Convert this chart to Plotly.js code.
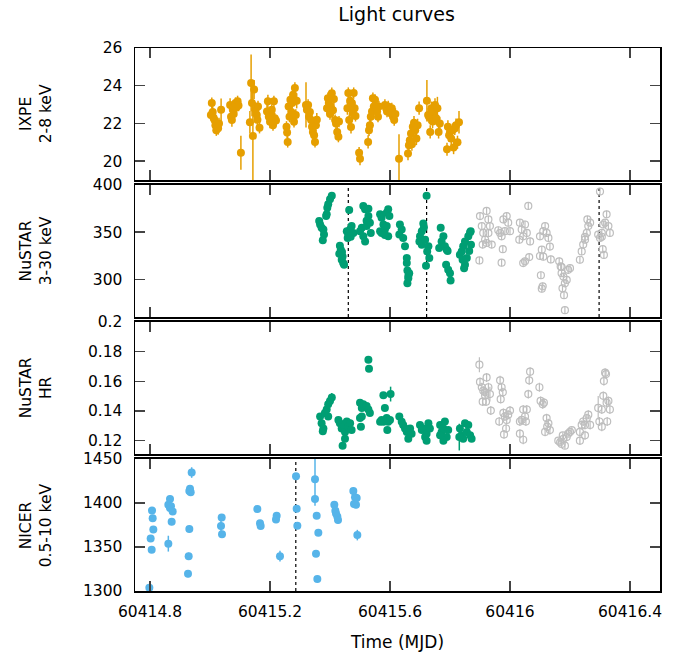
<!DOCTYPE html>
<html>
<head>
<meta charset="utf-8">
<script src="https://cdn.plot.ly/plotly-3.0.1.min.js"></script>
<style>html,body{margin:0;padding:0;background:#fff;}#chart{width:686px;height:659px;}</style>
</head>
<body>
<div id="chart"></div>
<script>
// ---------------- DATA ----------------
const ixpe_time = [
60415.003,60415.006,60415.009,60415.012,60415.015,60415.018,60415.021,60415.024,60415.027,60415.030,60415.037,
60415.067,60415.070,60415.073,60415.076,60415.079,60415.082,60415.085,60415.088,60415.092,60415.095,60415.103,
60415.133,60415.137,60415.140,60415.143,60415.147,60415.152,60415.156,60415.160,60415.165,60415.158,
60415.190,60415.193,60415.196,60415.200,60415.203,60415.206,60415.210,60415.213,60415.216,60415.220,
60415.255,60415.257,60415.259,60415.262,60415.265,60415.268,60415.271,60415.274,60415.277,60415.280,60415.283,60415.286,60415.289,
60415.320,60415.323,60415.327,60415.330,60415.333,60415.337,60415.340,60415.343,60415.347,60415.350,60415.353,60415.356,
60415.390,60415.393,60415.396,60415.400,60415.403,60415.406,60415.410,60415.413,60415.417,60415.420,60415.424,60415.428,60415.430,
60415.458,60415.461,60415.464,60415.467,60415.470,60415.473,60415.476,60415.479,60415.482,60415.485,
60415.497,60415.500,
60415.527,60415.530,60415.533,60415.536,60415.540,60415.543,60415.546,60415.550,60415.553,60415.557,60415.560,60415.563,
60415.583,60415.587,60415.590,60415.594,60415.598,60415.602,60415.606,60415.610,60415.614,60415.618,
60415.630,
60415.660,60415.663,60415.666,60415.670,60415.673,60415.676,60415.680,60415.684,60415.688,60415.692,60415.697,
60415.723,60415.727,60415.730,60415.734,60415.738,60415.742,60415.746,60415.750,60415.754,60415.758,60415.762,60415.766,
60415.790,60415.793,60415.797,60415.800,60415.804,60415.808,60415.812,60415.816,60415.820,60415.825,60415.830];
const ixpe_rate = [
22.45,23.08,22.6,22.3,22.18,21.9,21.64,21.82,21.75,22.0,22.72,
22.98,22.36,22.18,22.72,22.5,22.9,23.08,22.85,23.17,22.95,20.45,
22.06,24.15,23.08,21.34,23.8,22.72,22.45,22.9,21.77,22.2,
22.63,23.17,22.36,22.09,22.5,22.72,21.91,23.17,22.27,22.15,
21.82,21.52,21.02,22.9,22.36,23.25,22.6,23.08,23.52,22.09,23.88,22.45,23.2,
22.98,22.72,22.98,22.36,22.6,22.18,21.82,21.55,21.37,21.02,21.9,22.2,
22.81,23.34,23.08,22.5,22.9,23.6,22.7,23.3,22.18,21.99,21.55,21.3,22.1,
22.81,23.61,22.18,23.2,21.81,23.08,22.54,23.61,22.81,22.4,
20.45,20.13,
21.02,21.64,21.91,22.36,22.63,23.34,22.9,23.25,22.9,22.63,22.36,22.9,
22.98,22.81,22.63,22.9,22.72,22.54,22.8,22.36,22.18,22.5,
20.13,
20.40,20.84,21.11,21.47,20.9,21.82,22.04,21.64,21.2,21.9,22.81,
23.2,22.45,22.36,21.55,22.81,22.1,22.63,22.98,22.27,22.81,21.55,22.0,
20.63,21.82,21.37,21.55,21.2,21.64,20.72,21.73,21.91,21.0,22.06];
const ixpe_err = [
0.3,0.3,0.3,0.3,0.3,0.3,0.3,0.3,0.35,0.3,0.6,
0.35,0.3,0.35,0.3,0.3,0.3,0.3,0.3,0.3,0.3,0.9,
0.6,1.5,0.7,2.5,0.5,0.4,0.4,0.3,0.3,0.3,
0.35,0.35,0.3,0.35,0.3,0.3,0.3,0.3,0.3,0.3,
0.3,0.3,0.3,0.3,0.3,0.3,0.3,0.3,0.3,0.3,0.3,0.3,0.4,
1.2,0.4,0.3,0.3,0.3,0.3,0.3,0.3,0.3,0.3,0.3,0.35,
0.3,0.3,0.3,0.3,0.3,0.3,0.3,0.3,0.3,0.3,0.35,0.3,0.3,
0.35,0.3,0.3,0.3,0.35,0.3,0.3,0.3,0.3,0.3,
0.3,0.35,
0.35,0.3,0.3,0.3,0.3,0.3,0.3,0.3,0.3,0.3,0.3,0.3,
0.3,0.3,0.3,0.3,0.3,0.3,0.3,0.3,0.3,0.3,
1.3,
0.35,0.35,0.35,0.35,0.35,0.35,0.35,0.35,0.35,0.35,0.35,
1.1,0.35,0.35,0.35,0.35,0.35,0.35,0.35,0.35,0.6,0.35,0.35,
0.35,0.35,0.35,0.35,0.35,0.35,0.35,0.35,0.35,0.35,0.6];

// NuSTAR count rate, first segment (filled)
const nustarA_time = [
60415.367,60415.372,60415.378,60415.380,60415.376,60415.364,60415.387,60415.389,60415.391,60415.394,60415.400,60415.406,
60415.431,60415.433,60415.436,60415.439,60415.442,60415.444,60415.447,60415.440,
60415.464,60415.456,60415.459,60415.461,60415.467,60415.472,60415.478,60415.469,
60415.500,60415.506,60415.511,60415.511,60415.517,60415.517,60415.522,60415.522,60415.528,60415.528,60415.533,60415.536,
60415.567,60415.567,60415.572,60415.572,60415.578,60415.583,60415.589,60415.589,60415.594,60415.594,60415.598,60415.583,
60415.631,60415.633,60415.639,60415.644,60415.650,60415.656,60415.656,60415.658,60415.661,60415.664,60415.658,60415.661,
60415.698,60415.700,60415.706,60415.706,60415.711,60415.713,60415.722,60415.720,60415.728,60415.724,60415.731,60415.717,
60415.764,60415.769,60415.772,60415.778,60415.783,60415.789,60415.787,60415.794,60415.800,60415.802,60415.792,
60415.833,60415.839,60415.842,60415.844,60415.850,60415.850,60415.847,60415.856,60415.861,60415.867,60415.869,60415.870,60415.864];
const nustarA_rate = [
358.1,354.6,352.8,347.4,341.4,361.7,367,368.9,376,379.6,384.9,388.5,
327.1,335.7,331.4,320.7,324.3,317.2,315.4,329,
373.5,351,343.9,347.4,352.8,356.4,349.2,345,
351,354.6,377.8,345.6,374.2,340.2,356.4,362,374.9,367,360,349.2,
368.9,351,365.3,349.2,358.1,352.8,370.7,356.4,374.2,345.6,367,347,
347.4,358.1,352.8,343.9,335,322.6,317.2,309.3,303.6,306.5,295.7,301.1,
340.2,345.6,351,336.6,359.2,355,388.5,314.3,335,329.6,322.6,342,
333.2,354.6,340.2,345.6,335,331.4,315.4,310,306.5,298.7,330,
326,329.6,320.7,335,340.2,315.4,311.8,322.6,345.6,350,351,336.7,330];

// NuSTAR count rate, second segment (open)
const nustarB_time = [
60415.900,60415.906,60415.911,60415.917,60415.922,60415.928,60415.928,60415.933,60415.922,60415.909,60415.898,60415.939,
60415.967,60415.972,60415.978,60415.983,60415.989,60415.994,60416.000,60415.976,60415.972,60415.961,
60416.033,60416.039,60416.044,60416.050,60416.056,60416.061,60416.067,60416.044,60416.050,60416.064,60416.031,
60416.100,60416.106,60416.111,60416.117,60416.122,60416.128,60416.133,60416.100,60416.111,60416.136,60416.103,60416.106,60416.109,
60416.164,60416.169,60416.172,60416.178,60416.183,60416.189,60416.194,60416.200,60416.175,60416.180,60416.183,60416.172,
60416.233,60416.239,60416.244,60416.250,60416.256,60416.261,60416.258,60416.267,60416.250,
60416.300,60416.294,60416.300,60416.306,60416.311,60416.317,60416.322,60416.328,60416.333,60416.309,60416.313,60416.306];
const nustarB_rate = [
367,356.4,349.2,342,338.5,363.5,349,356.4,372.5,336.8,320,336.8,
349.2,345.6,363.5,351,367,360,351,331.9,317.6,352,
360,352.8,345.6,358.1,349.2,377.8,340.2,317.2,319,323.6,342,
345.6,331.4,351,356.4,349.2,343.9,334.7,324.7,324,321.1,304.3,290,292.5,
319,313.6,306.5,302.9,295.7,299.3,310,311.8,290.4,283.2,267.2,313,
320.7,329.6,336.8,342,349.2,356.4,363.5,360,345,
393.1,347.4,343.9,349.2,358.1,360,368.9,356.4,349.2,331.9,325.8,345];

// NuSTAR hardness ratio, first segment (filled)
const hrA_time = [
60415.367,60415.372,60415.378,60415.376,60415.383,60415.389,60415.394,60415.400,60415.406,60415.394,
60415.433,60415.439,60415.444,60415.450,60415.456,60415.461,60415.467,60415.472,60415.442,60415.450,60415.428,
60415.500,60415.506,60415.511,60415.522,60415.528,60415.533,60415.506,60415.500,60415.503,60415.528,60415.530,
60415.578,60415.583,60415.572,60415.578,60415.589,60415.594,60415.600,60415.591,60415.602,60415.567,
60415.631,60415.639,60415.644,60415.650,60415.656,60415.661,60415.667,60415.672,
60415.700,60415.706,60415.711,60415.717,60415.722,60415.728,60415.733,60415.722,
60415.767,60415.772,60415.778,60415.783,60415.789,60415.794,60415.778,60415.767,
60415.833,60415.839,60415.844,60415.850,60415.856,60415.861,60415.867,60415.872,60415.831];
const hrA_val = [
0.1363,0.1317,0.1282,0.1264,0.1387,0.1410,0.1445,0.1468,0.1491,0.1363,
0.1317,0.1282,0.1306,0.1259,0.1329,0.1294,0.1317,0.1271,0.1166,0.1212,0.1340,
0.1456,0.1421,0.1445,0.1433,0.1410,0.1387,0.1363,0.1352,0.1294,0.1746,0.1684,
0.1506,0.1421,0.1340,0.1328,0.1352,0.1328,0.1340,0.1271,0.1514,0.1328,
0.1363,0.1328,0.1306,0.1282,0.1259,0.1212,0.1282,0.1247,
0.1306,0.1271,0.1282,0.1224,0.1247,0.1317,0.1282,0.1200,
0.1306,0.1259,0.1282,0.1329,0.1224,0.1271,0.1200,0.1236,
0.1282,0.1236,0.1212,0.1317,0.1259,0.1306,0.1236,0.1212,0.1224];
const hrA_err = [
0.002,0.002,0.002,0.002,0.002,0.002,0.002,0.002,0.003,0.002,
0.002,0.002,0.002,0.002,0.002,0.002,0.002,0.002,0.002,0.002,0.002,
0.002,0.002,0.002,0.002,0.002,0.002,0.002,0.002,0.002,0.002,0.002,
0.002,0.002,0.002,0.002,0.002,0.002,0.002,0.002,0.005,0.002,
0.002,0.002,0.002,0.002,0.002,0.002,0.002,0.002,
0.002,0.002,0.002,0.002,0.002,0.002,0.002,0.002,
0.002,0.002,0.002,0.002,0.002,0.002,0.002,0.002,
0.002,0.002,0.002,0.002,0.002,0.002,0.002,0.002,0.009];

// NuSTAR hardness ratio, second segment (open)
const hrB_time = [
60415.898,60415.900,60415.906,60415.911,60415.917,60415.922,60415.928,60415.933,60415.909,60415.920,60415.936,60415.917,
60415.967,60415.972,60415.976,60415.969,60415.978,60415.983,60415.989,60415.994,60416.000,60415.964,60415.980,60415.987,
60416.033,60416.039,60416.044,60416.050,60416.056,60416.061,60416.064,60416.067,60416.033,60416.044,60416.053,
60416.098,60416.102,60416.109,60416.113,60416.122,60416.128,60416.133,60416.117,60416.124,
60416.161,60416.167,60416.172,60416.178,60416.183,60416.189,60416.194,60416.200,60416.176,60416.206,
60416.233,60416.239,60416.244,60416.250,60416.256,60416.261,60416.233,60416.250,60416.267,
60416.294,60416.306,60416.311,60416.313,60416.317,60416.320,60416.322,60416.328,60416.333,60416.298,60416.306,60416.324];
const hrB_val = [
0.1712,0.1596,0.1560,0.1537,0.1526,0.1626,0.1560,0.1514,0.1463,0.1463,0.1403,0.1505,
0.1607,0.1560,0.1526,0.1480,0.1387,0.1363,0.1340,0.1375,0.1403,0.1329,0.1242,0.1282,
0.1329,0.1340,0.1410,0.1363,0.1410,0.1514,0.1607,0.1665,0.1247,0.1206,0.1329,
0.1560,0.1468,0.1445,0.1456,0.1352,0.1317,0.1271,0.1259,0.1294,
0.1200,0.1189,0.1178,0.1212,0.1166,0.1224,0.1247,0.1259,0.1236,0.1271,
0.1259,0.1306,0.1329,0.1306,0.1352,0.1375,0.1200,0.1236,0.1306,
0.1421,0.1410,0.1502,0.1602,0.1658,0.1649,0.1456,0.1468,0.1410,0.1329,0.1294,0.1329];
const hrB_err = [
0.005,0.003,0.003,0.003,0.003,0.003,0.003,0.005,0.003,0.003,0.003,0.003,
0.003,0.003,0.003,0.003,0.003,0.003,0.003,0.003,0.003,0.003,0.003,0.003,
0.003,0.003,0.003,0.003,0.003,0.003,0.003,0.003,0.003,0.003,0.003,
0.003,0.003,0.003,0.003,0.003,0.003,0.003,0.003,0.003,
0.002,0.002,0.002,0.002,0.002,0.002,0.002,0.002,0.002,0.002,
0.003,0.003,0.003,0.003,0.003,0.003,0.003,0.003,0.003,
0.008,0.003,0.003,0.003,0.003,0.003,0.003,0.003,0.003,0.003,0.003,0.003];

// NICER count rate
const nicer_time = [
60414.7978,60414.8022,60414.8056,60414.8067,60414.8089,60414.8111,
60414.8611,60414.8611,60414.8667,60414.8667,60414.8700,60414.8756,60414.8722,
60414.9389,60414.9333,60414.9356,60414.9311,60414.9311,60414.9289,60414.9267,
60415.0389,60415.0367,60415.0400,
60415.1578,60415.1667,60415.1689,
60415.2222,60415.2200,60415.2333,
60415.2867,60415.2889,60415.2911,
60415.3500,60415.3500,60415.3556,60415.3611,60415.3533,60415.3578,
60415.4144,60415.4178,60415.4200,60415.4244,60415.4267,
60415.4778,60415.4833,60415.4889,60415.4800,60415.4867,60415.4911];
const nicer_rate = [
1303.8,1359.6,1346.9,1391.5,1382.7,1370.0,
1353.8,1398.0,1404.6,1394.2,1396.2,1390.4,1378.8,
1434.6,1416.2,1412.3,1413.5,1370.4,1339.6,1319.6,
1383.5,1373.8,1364.6,
1393.1,1376.9,1373.8,
1385.4,1381.2,1339.6,
1430.4,1393.5,1374.2,
1426.9,1404.6,1385.4,1366.2,1342.3,1313.5,
1398.1,1391.2,1388.1,1384.6,1380.8,
1413.5,1406.5,1405.8,1398.8,1398.1,1363.5];
const nicer_err = [
3,3,3,3,3,3,
9,4,4,4,4,4,4,
6,4,4,4,4,4,4,
4,9,4,
3,3,3,
3,3,6,
3,3,3,
30,3,3,3,3,3,
4,4,4,4,4,
4,4,4,4,4,6];

const nustar_marks = [60415.461, 60415.722, 60416.297];
const nicer_marks = [60415.286];

const x_tickvals = [60414.8, 60415.2, 60415.6, 60416.0, 60416.4];
const x_ticktext = ["60414.8", "60415.2", "60415.6", "60416", "60416.4"];
const panel_titles = ["IXPE<br>2-8 keV", "NuSTAR<br>3-30 keV", "NuSTAR<br>HR", "NICER<br>0.5-10 keV"];

// ---------------- STYLE ----------------
const C_IXPE = '#E69F00', C_NU = '#009E73', C_GRAY = '#BEBEBE', C_NICER = '#56B4E9';
const FONT = 'DejaVu Sans, sans-serif';

function filled(x, y, e, color, xa, ya) {
  return {type:'scatter', mode:'markers', x:x, y:y, xaxis:xa, yaxis:ya,
    marker:{color:color, size:8, symbol:'circle'},
    error_y:{type:'data', array:e, visible:true, color:color, thickness:1.5, width:0},
    hoverinfo:'skip', showlegend:false};
}
function open(x, y, e, color, xa, ya) {
  return {type:'scatter', mode:'markers', x:x, y:y, xaxis:xa, yaxis:ya,
    marker:{color:color, size:7, symbol:'circle-open', line:{color:color, width:1.2}},
    error_y:{type:'data', array:e, visible:true, color:color, thickness:1.2, width:0},
    hoverinfo:'skip', showlegend:false};
}
const fillArr = (n, v) => new Array(n).fill(v);

const traces = [
  filled(ixpe_time, ixpe_rate, ixpe_err, C_IXPE, 'x', 'y'),
  filled(nustarA_time, nustarA_rate, fillArr(nustarA_time.length, 3), C_NU, 'x2', 'y2'),
  open(nustarB_time, nustarB_rate, fillArr(nustarB_time.length, 4), C_GRAY, 'x2', 'y2'),
  filled(hrA_time, hrA_val, hrA_err, C_NU, 'x3', 'y3'),
  open(hrB_time, hrB_val, hrB_err, C_GRAY, 'x3', 'y3'),
  filled(nicer_time, nicer_rate, nicer_err, C_NICER, 'x4', 'y4')
];

const xrange = [60414.75, 60416.5];
function xax(anchor, labels) {
  const a = {range:xrange, anchor:anchor,
    tickvals:x_tickvals, ticktext:x_ticktext, showticklabels:labels,
    ticks:'inside', ticklen:10, tickwidth:1.5, tickcolor:'#444',
    showline:true, linecolor:'#000', linewidth:1.5, mirror:'allticks',
    showgrid:false, zeroline:false, tickfont:{family:FONT, size:15.5, color:'#000'},
    ticklabelstandoff:6};
  if (anchor !== 'y') a.matches = 'x';
  if (labels) a.title = {text:'Time (MJD)', font:{family:FONT, size:17, color:'#000'}, standoff:16};
  return a;
}
function yax(dom, range, dtick, xanchor) {
  return {domain:dom, range:range, dtick:dtick, anchor:xanchor,
    ticks:'inside', ticklen:10, tickwidth:1.5, tickcolor:'#444',
    showline:true, linecolor:'#000', linewidth:1.5, mirror:'allticks',
    showgrid:false, zeroline:false, tickfont:{family:FONT, size:15.5, color:'#000'},
    ticklabelstandoff:8};
}

const shapes = [];
nustar_marks.forEach(v => shapes.push({type:'line', xref:'x2', yref:'y2 domain', x0:v, x1:v, y0:0, y1:1,
  line:{color:'#000', width:1.2, dash:'dot'}, layer:'below'}));
nicer_marks.forEach(v => shapes.push({type:'line', xref:'x4', yref:'y4 domain', x0:v, x1:v, y0:0, y1:1,
  line:{color:'#000', width:1.2, dash:'dot'}, layer:'below'}));

const yrefs = ['y domain', 'y2 domain', 'y3 domain', 'y4 domain'];
const annotations = panel_titles.map((t, i) => ({text:t, xref:'paper', yref:yrefs[i], x:-0.188, y:0.5,
  xanchor:'center', yanchor:'middle', textangle:-90, showarrow:false,
  font:{family:FONT, size:15.5, color:'#000'}}));

const layout = {
  width:686, height:659, paper_bgcolor:'#fff', plot_bgcolor:'#fff',
  margin:{l:135, r:26, t:48, b:68},
  title:{text:'Light curves', x:0.578, xanchor:'center', y:0.978, yanchor:'middle', yref:'container',
    font:{family:FONT, size:19, color:'#000'}},
  font:{family:FONT, color:'#000'},
  xaxis: xax('y', false),
  xaxis2: xax('y2', false),
  xaxis3: xax('y3', false),
  xaxis4: xax('y4', true),
  yaxis: yax([0.7569, 1], [19, 26], 2, 'x'),
  yaxis2: yax([0.5046, 0.7477], [260, 400], 50, 'x2'),
  yaxis3: yax([0.2523, 0.4954], [0.111, 0.2], 0.02, 'x3'),
  yaxis4: yax([0, 0.2431], [1300, 1450], 50, 'x4'),
  shapes: shapes,
  annotations: annotations
};

Plotly.newPlot('chart', traces, layout, {displayModeBar:false, staticPlot:true});
</script>
</body>
</html>
